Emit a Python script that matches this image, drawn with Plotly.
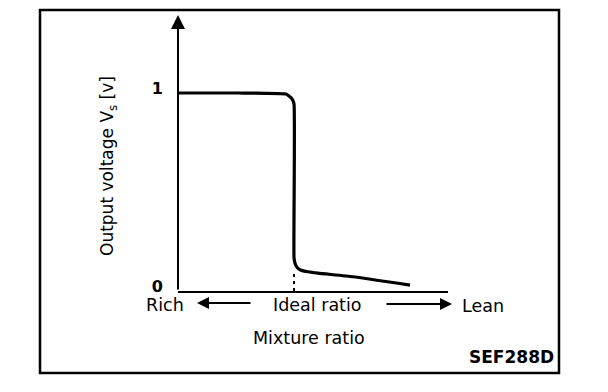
import plotly.graph_objects as go

# Data (mixture ratio in arbitrary units, rich -> lean)
ratio = [0, 60, 108, 111, 114, 116, 116, 117, 119, 123, 130, 140, 175, 232]
voltage = [1.0, 1.0, 0.995, 0.985, 0.97, 0.945, 0.17, 0.14, 0.12, 0.105, 0.097, 0.09, 0.072, 0.03]
ideal_ratio = [116, 116]
ideal_marker = [0, 0.105]
y_tick_vals = [0, 1]
y_tick_text = ["0", "1"]

FONT = "DejaVu Sans"
W, H = 608, 392
L, R, T, B = 178, 160, 15, 101
X_MAX = 270
Y_MAX = 276 / 198


def px(x):
    return (x - L) / (W - L - R)


def py(y):
    return (H - B - y) / (H - B - T)


fig = go.Figure()
fig.add_trace(go.Scatter(x=ratio, y=voltage, mode="lines",
                         line=dict(color="black", width=3.2, shape="spline", smoothing=0.4),
                         hoverinfo="skip", showlegend=False, cliponaxis=False))
fig.add_trace(go.Scatter(x=ideal_ratio, y=ideal_marker, mode="lines",
                         line=dict(color="black", width=2, dash="3px,4px"),
                         hoverinfo="skip", showlegend=False))

fig.update_layout(
    width=W, height=H,
    margin=dict(l=L, r=R, t=T, b=B, pad=0),
    paper_bgcolor="white", plot_bgcolor="white",
    showlegend=False,
    xaxis=dict(range=[0, X_MAX], showgrid=False, zeroline=False, showticklabels=False,
               ticks="", showline=True, linecolor="black", linewidth=2),
    yaxis=dict(range=[0, Y_MAX], showgrid=False, zeroline=False, showline=False,
               tickvals=y_tick_vals, ticktext=y_tick_text, ticks="",
               tickfont=dict(family=FONT, size=16, color="black", weight="bold"),
               ticklabelstandoff=14, ticklabelshift=-5),
)

# y axis line with arrowhead
fig.add_annotation(x=0, y=Y_MAX, ax=0, ay=0, xref="x", yref="y", axref="x", ayref="y",
                   showarrow=True, arrowhead=2, arrowsize=1.4, arrowwidth=2,
                   arrowcolor="black", text="")

# frame
fig.add_shape(type="rect", xref="paper", yref="paper",
              x0=px(40), x1=px(559), y0=py(373), y1=py(10),
              line=dict(color="black", width=2.5))

txt = dict(family=FONT, size=17.5, color="black")
fig.add_annotation(xref="paper", yref="paper", x=px(165), y=py(305), text="Rich",
                   showarrow=False, font=txt, xanchor="center", yanchor="middle")
fig.add_annotation(xref="paper", yref="paper", x=px(317), y=py(305), text="Ideal ratio",
                   showarrow=False, font=txt, xanchor="center", yanchor="middle")
fig.add_annotation(xref="paper", yref="paper", x=px(483), y=py(306), text="Lean",
                   showarrow=False, font=txt, xanchor="center", yanchor="middle")
fig.add_annotation(xref="paper", yref="paper", x=px(309), y=py(338), text="Mixture ratio",
                   showarrow=False, font=txt, xanchor="center", yanchor="middle")
fig.add_annotation(xref="paper", yref="paper", x=px(556), y=py(357), text="<b>SEF288D</b>",
                   showarrow=False, font=dict(family=FONT, size=17, color="black"),
                   xanchor="right", yanchor="middle")
fig.add_annotation(xref="paper", yref="paper", x=px(108), y=py(166),
                   text="Output voltage V<sub>s</sub> [v]",
                   showarrow=False, font=dict(family=FONT, size=17, color="black"),
                   textangle=-90, xanchor="center", yanchor="middle")

# direction arrows
fig.add_annotation(xref="paper", yref="paper", axref="pixel", ayref="pixel",
                   x=px(197), y=py(303), ax=55, ay=0, text="", showarrow=True,
                   arrowhead=2, arrowsize=1.2, arrowwidth=2, arrowcolor="black")
fig.add_annotation(xref="paper", yref="paper", axref="pixel", ayref="pixel",
                   x=px(452), y=py(304), ax=-67, ay=0, text="", showarrow=True,
                   arrowhead=2, arrowsize=1.2, arrowwidth=2, arrowcolor="black")

fig.write_html("out.html", config={"displayModeBar": False},
               post_script="document.body.style.margin='0';document.body.style.overflow='hidden';")
